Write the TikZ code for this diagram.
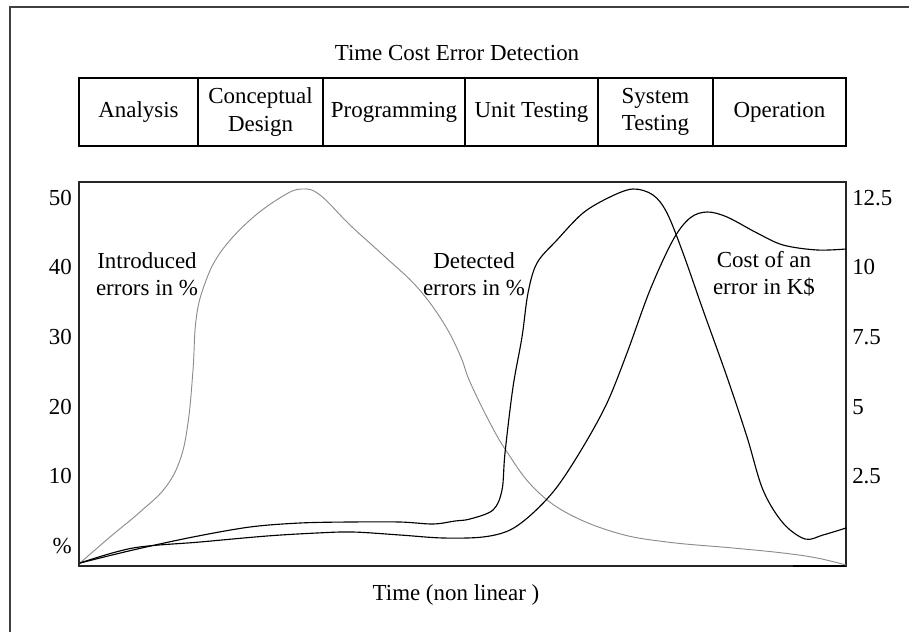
\documentclass[tikz,border=0pt]{standalone}
\usepackage{fontspec}
\setmainfont{Liberation Serif}
\usepackage{tikz}
\tikzset{txt/.style={font=\fontsize{17.2}{20.5}\selectfont}}
\tikzset{phase/.style={txt, draw, line width=.8pt, inner sep=0pt, minimum height=51pt, align=center}}
\tikzset{ticklab/.style={txt, inner sep=0pt}}
\tikzset{curve/.style={line width=.85pt, line join=round}}
\definecolor{framegray}{HTML}{404040}
\definecolor{lightcurve}{HTML}{8C8C8C}

\begin{document}
\begin{tikzpicture}[x=.75pt, y=-.75pt]
  \useasboundingbox (0,0) rectangle (909,631);
  % outer frame, only top and left edge are visible
  \draw[framegray, line width=1.5pt] (10,640) -- (10,7) -- (920,7);

  \node[txt] (Title) at (457,53) {Time Cost Error Detection};

  % phases
  \node[phase, minimum width=89.25pt] (Ana) at (138.5,112) {Analysis};
  \node[phase, minimum width=93.75pt] (Con) at (260.5,112) {Conceptual\\Design};
  \node[phase, minimum width=106.5pt] (Pro) at (394,112) {Programming};
  \node[phase, minimum width=99.75pt] (Uni) at (531.5,112) {Unit Testing};
  \node[phase, minimum width=86.25pt] (Sys) at (655.5,112) {System\\Testing};
  \node[phase, minimum width=99.75pt] (Ope) at (779.5,112) {Operation};

  % plot area
  \draw[black!85, line width=.8pt] (79,182) rectangle (846,566);
  \draw[line width=1.6pt] (793,566) -- (846,566);

  \foreach \v/\w/\y [count=\i] in {50/12.5/198, 40/10/267, 30/7.5/337, 20/5/407, 10/2.5/476}{
    \node[ticklab, anchor=east] (L\i) at (72,\y) {\v};
    \node[ticklab, anchor=west] (R\i) at (852,\y) {\w};
  }
  \node[ticklab, anchor=east] (Pct) at (72,546) {\%};

  % introduced errors
  \draw[curve, lightcurve, line width=.7pt] plot[smooth, tension=.65] coordinates {
    (80,563) (110,537) (140,512) (165,488) (180,460) (188,423) (193,370)
    (196,320) (204,286) (220,253) (250,220) (283,196) (302,189) (320,195)
    (350,225) (383,255) (417,287) (443,322) (460,355) (470,382) (490,423)
    (507,452) (533,487) (567,513) (617,533) (667,542) (733,548) (783,553)
    (817,558) (846,565)};
  % detected errors
  \draw[curve] plot[smooth, tension=.55] coordinates {
    (80,563) (133,550) (193,537) (250,527) (300,523) (350,522) (400,522)
    (433,524) (455,521) (470,519) (493,510) (502,490) (505,453) (513,387)
    (522,337) (528,293) (537,263) (557,240) (583,213) (610,197) (633,189)
    (653,195) (667,213) (683,253) (703,310) (727,377) (747,437) (763,490)
    (783,523) (805,539) (823,535) (846,528)};
  % cost of an error
  \draw[curve] plot[smooth, tension=.55] coordinates {
    (80,563) (133,548) (200,542) (267,536) (317,533) (353,532) (400,535)
    (443,538) (483,537) (510,530) (533,513) (557,487) (583,447) (607,403)
    (627,353) (650,290) (673,240) (690,218) (707,212) (727,217) (757,233)
    (783,245) (817,250) (846,249)};

  \node[txt, align=center] (Intro) at (147,274) {Introduced\\errors in \%};
  \node[txt, align=center] (Detec) at (474,274) {Detected\\errors in \%};
  \node[txt, align=center] (Cost) at (764,274) {Cost of an\\error in K\$};

  \node[txt] (Time) at (456,595) {Time (non linear )};
\end{tikzpicture}
\end{document}
